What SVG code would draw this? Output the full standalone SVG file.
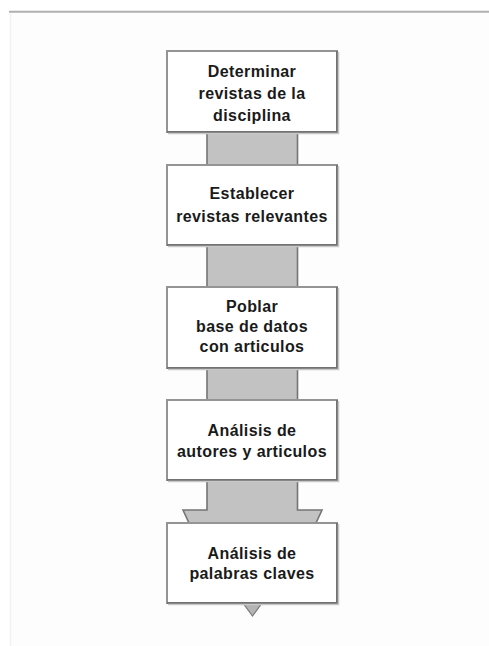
<svg xmlns="http://www.w3.org/2000/svg" width="489" height="646" viewBox="0 0 489 646">
<defs>
<style>
.box{fill:#ffffff;stroke:#949494;stroke-width:2}
.dark{fill:none;stroke:#727272;stroke-width:2}
.shadow{fill:none;stroke:#c8c8c8;stroke-width:1.5}
.conn{fill:#c2c2c2;stroke:none}
.connEdge{fill:none;stroke:#747474;stroke-width:1.6}
.lbl{font-family:"Liberation Sans",Arial,sans-serif;font-weight:bold;font-size:16px;letter-spacing:0.4px;fill:#1a1a1a;text-anchor:middle}
</style>
</defs>
<rect x="0" y="0" width="489" height="646" fill="#ffffff"/>
<rect x="10" y="13" width="479" height="633" fill="#fdfdfd"/>
<line x1="9" y1="11.8" x2="489" y2="11.8" stroke="#b0b0b0" stroke-width="2"/>
<line x1="10.5" y1="13" x2="10.5" y2="646" stroke="#f1f1f1" stroke-width="1.5"/>

<g id="connectors">
  <rect class="conn" x="207" y="132" width="90.5" height="33"/>
  <line class="connEdge" x1="207" y1="132" x2="207" y2="165"/>
  <line class="connEdge" x1="297.5" y1="132" x2="297.5" y2="165"/>

  <rect class="conn" x="207" y="245" width="90.5" height="42"/>
  <line class="connEdge" x1="207" y1="245" x2="207" y2="287"/>
  <line class="connEdge" x1="297.5" y1="245" x2="297.5" y2="287"/>

  <rect class="conn" x="207" y="368" width="90.5" height="32"/>
  <line class="connEdge" x1="207" y1="368" x2="207" y2="400"/>
  <line class="connEdge" x1="297.5" y1="368" x2="297.5" y2="400"/>

  <polygon class="conn" points="207,480 207,510 183,510 189,523 316,523 322,510 297.5,510 297.5,480"/>
  <polyline class="connEdge" points="207,480 207,510 183,510 189,523"/>
  <polyline class="connEdge" points="297.5,480 297.5,510 322,510 316,523"/>

  <polygon points="243,603 262,603 252.5,616" fill="#b4b4b4" stroke="#7a7a7a" stroke-width="1.2"/>
</g>

<g id="node1">
  <rect class="box" x="167" y="51" width="170" height="81"/>
  <polyline class="dark" points="337,51 337,132 167,132"/>
  <polyline class="shadow" points="338.5,52 338.5,133.5 168,133.5"/>
  <text class="lbl" x="252" y="77">Determinar</text>
  <text class="lbl" x="252" y="99">revistas de la</text>
  <text class="lbl" x="252" y="121">disciplina</text>
</g>

<g id="node2">
  <rect class="box" x="167" y="165" width="170" height="80"/>
  <polyline class="dark" points="337,165 337,245 167,245"/>
  <polyline class="shadow" points="338.5,166 338.5,246.5 168,246.5"/>
  <text class="lbl" x="252" y="199">Establecer</text>
  <text class="lbl" x="252" y="222">revistas relevantes</text>
</g>

<g id="node3">
  <rect class="box" x="167" y="287" width="170" height="81"/>
  <polyline class="dark" points="337,287 337,368 167,368"/>
  <polyline class="shadow" points="338.5,288 338.5,369.5 168,369.5"/>
  <text class="lbl" x="252" y="312">Poblar</text>
  <text class="lbl" x="252" y="332">base de datos</text>
  <text class="lbl" x="252" y="352">con articulos</text>
</g>

<g id="node4">
  <rect class="box" x="167" y="400" width="170" height="80"/>
  <polyline class="dark" points="337,400 337,480 167,480"/>
  <polyline class="shadow" points="338.5,401 338.5,481.5 168,481.5"/>
  <text class="lbl" x="252" y="436">Análisis de</text>
  <text class="lbl" x="252" y="457">autores y articulos</text>
</g>

<g id="node5">
  <rect class="box" x="167" y="523" width="170" height="80"/>
  <polyline class="dark" points="337,523 337,603 167,603"/>
  <polyline class="shadow" points="338.5,524 338.5,604.5 168,604.5"/>
  <text class="lbl" x="252" y="559">Análisis de</text>
  <text class="lbl" x="252" y="579">palabras claves</text>
</g>
</svg>
